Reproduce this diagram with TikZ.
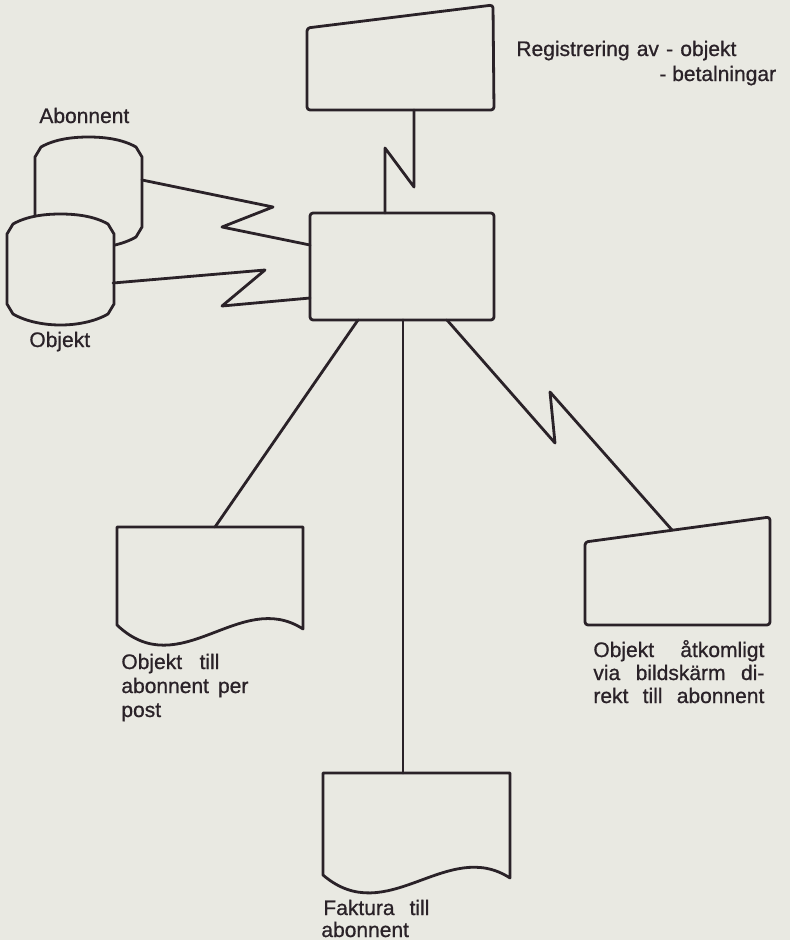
\documentclass[tikz,border=0pt]{standalone}
\usepackage{fontspec}
\setmainfont{Liberation Sans}
\newfontfamily\lblfont{Liberation Sans}[FakeBold=0.8]
\definecolor{ink}{RGB}{42,34,40}
\definecolor{paper}{RGB}{233,233,226}
\begin{document}
\begin{tikzpicture}[x=1pt,y=-1pt, line width=2.8pt, line join=round, line cap=round,
  every node/.style={font=\lblfont\fontsize{21}{23}\selectfont, text=ink, inner sep=0pt},
  shp/.style={draw=ink, fill=paper},
  wire/.style={draw=ink},
  lbl/.style={anchor=base west}]
\useasboundingbox (0,0) rectangle (790,940);
\fill[paper] (0,0) rectangle (790,940);

% ---------- shapes ----------
% manual input (top)
\draw[shp, rounded corners=3pt] (307,28) -- (493,5) -- (494,110) -- (307,110) -- cycle;
% central process box
\node[shp, rounded corners=3pt, minimum width=184pt, minimum height=107pt] (proc) at (402,266.5) {};
% drums
\begin{scope}[shift={(35,137)}]
\draw[shp] (0,20) -- (6,10) .. controls (20,2) and (38,0) .. (53.5,0) .. controls (69,0) and (87,2) .. (101,10) -- (107,20)
  -- (107,90) -- (101,100) .. controls (87,108) and (69,111) .. (53.5,111) .. controls (38,111) and (20,108) .. (6,100) -- (0,90) -- cycle;
\end{scope}
\begin{scope}[shift={(7,214)}]
\draw[shp] (0,20) -- (6,10) .. controls (20,2) and (38,0) .. (53.5,0) .. controls (69,0) and (87,2) .. (101,10) -- (107,20)
  -- (107,90) -- (101,100) .. controls (87,108) and (69,111) .. (53.5,111) .. controls (38,111) and (20,108) .. (6,100) -- (0,90) -- cycle;
\end{scope}
% document: per post
\draw[shp] (117,625) -- (117,527) -- (303,527) -- (303,629) .. controls (240,588) and (180,685) .. (117,625) -- cycle;
% document: faktura
\draw[shp] (323,875) -- (323,773) -- (510,773) -- (510,878) .. controls (447,837) and (387,930) .. (323,875) -- cycle;
% screen
\draw[shp, rounded corners=3pt] (585,542) -- (770,517) -- (770,625) -- (585,625) -- cycle;

% ---------- attachment points ----------
\coordinate (reg-s) at (414,110);
\coordinate (proc-n) at (385,213);
\coordinate (abon-e) at (142,180);
\coordinate (proc-w1) at (310,245);
\coordinate (obj-e) at (113,283);
\coordinate (proc-w2) at (310,298);
\coordinate (proc-s1) at (358,320);
\coordinate (post-n) at (215,527);
\coordinate (proc-s2) at (403,320);
\coordinate (fakt-n) at (403,773);
\coordinate (proc-s3) at (447,320);
\coordinate (scr-n) at (672,530);

% ---------- connectors ----------
\draw[wire] (reg-s) -- (414,187) -- (385,148) -- (proc-n);
\draw[wire] (abon-e) -- (273,207) -- (222,227) -- (proc-w1);
\draw[wire] (obj-e) -- (265,270) -- (222,306) -- (proc-w2);
\draw[wire] (proc-s1) -- (post-n);
\draw[wire] (proc-s2) -- (fakt-n);
\draw[wire] (proc-s3) -- (555,443) -- (550,392) -- (scr-n);

% ---------- labels ----------
\node[lbl] (lreg1) at (515,56) {\makebox[220pt][s]{Registrering av - objekt}};
\node[lbl] (lreg2) at (658,81) {- betalningar};
\node[lbl] (labon) at (38,123) {Abonnent};
\node[lbl] (lobj) at (28,347) {Objekt};
\node[lbl] (lpost1) at (120,669) {\makebox[98pt][s]{Objekt till}};
\node[lbl] (lpost2) at (120,693) {\makebox[127pt][s]{abonnent per}};
\node[lbl] (lpost3) at (120,717) {post};
\node[lbl] (lscr1) at (592,657) {\makebox[171pt][s]{Objekt åtkomligt}};
\node[lbl] (lscr2) at (592,680) {\makebox[171pt][s]{via bildskärm di-}};
\node[lbl] (lscr3) at (592,703) {\makebox[171pt][s]{rekt till abonnent}};
\node[lbl] (lfak1) at (322,915) {\makebox[106pt][s]{Faktura till}};
\node[lbl] (lfak2) at (320,937) {abonnent};
\end{tikzpicture}
\end{document}
